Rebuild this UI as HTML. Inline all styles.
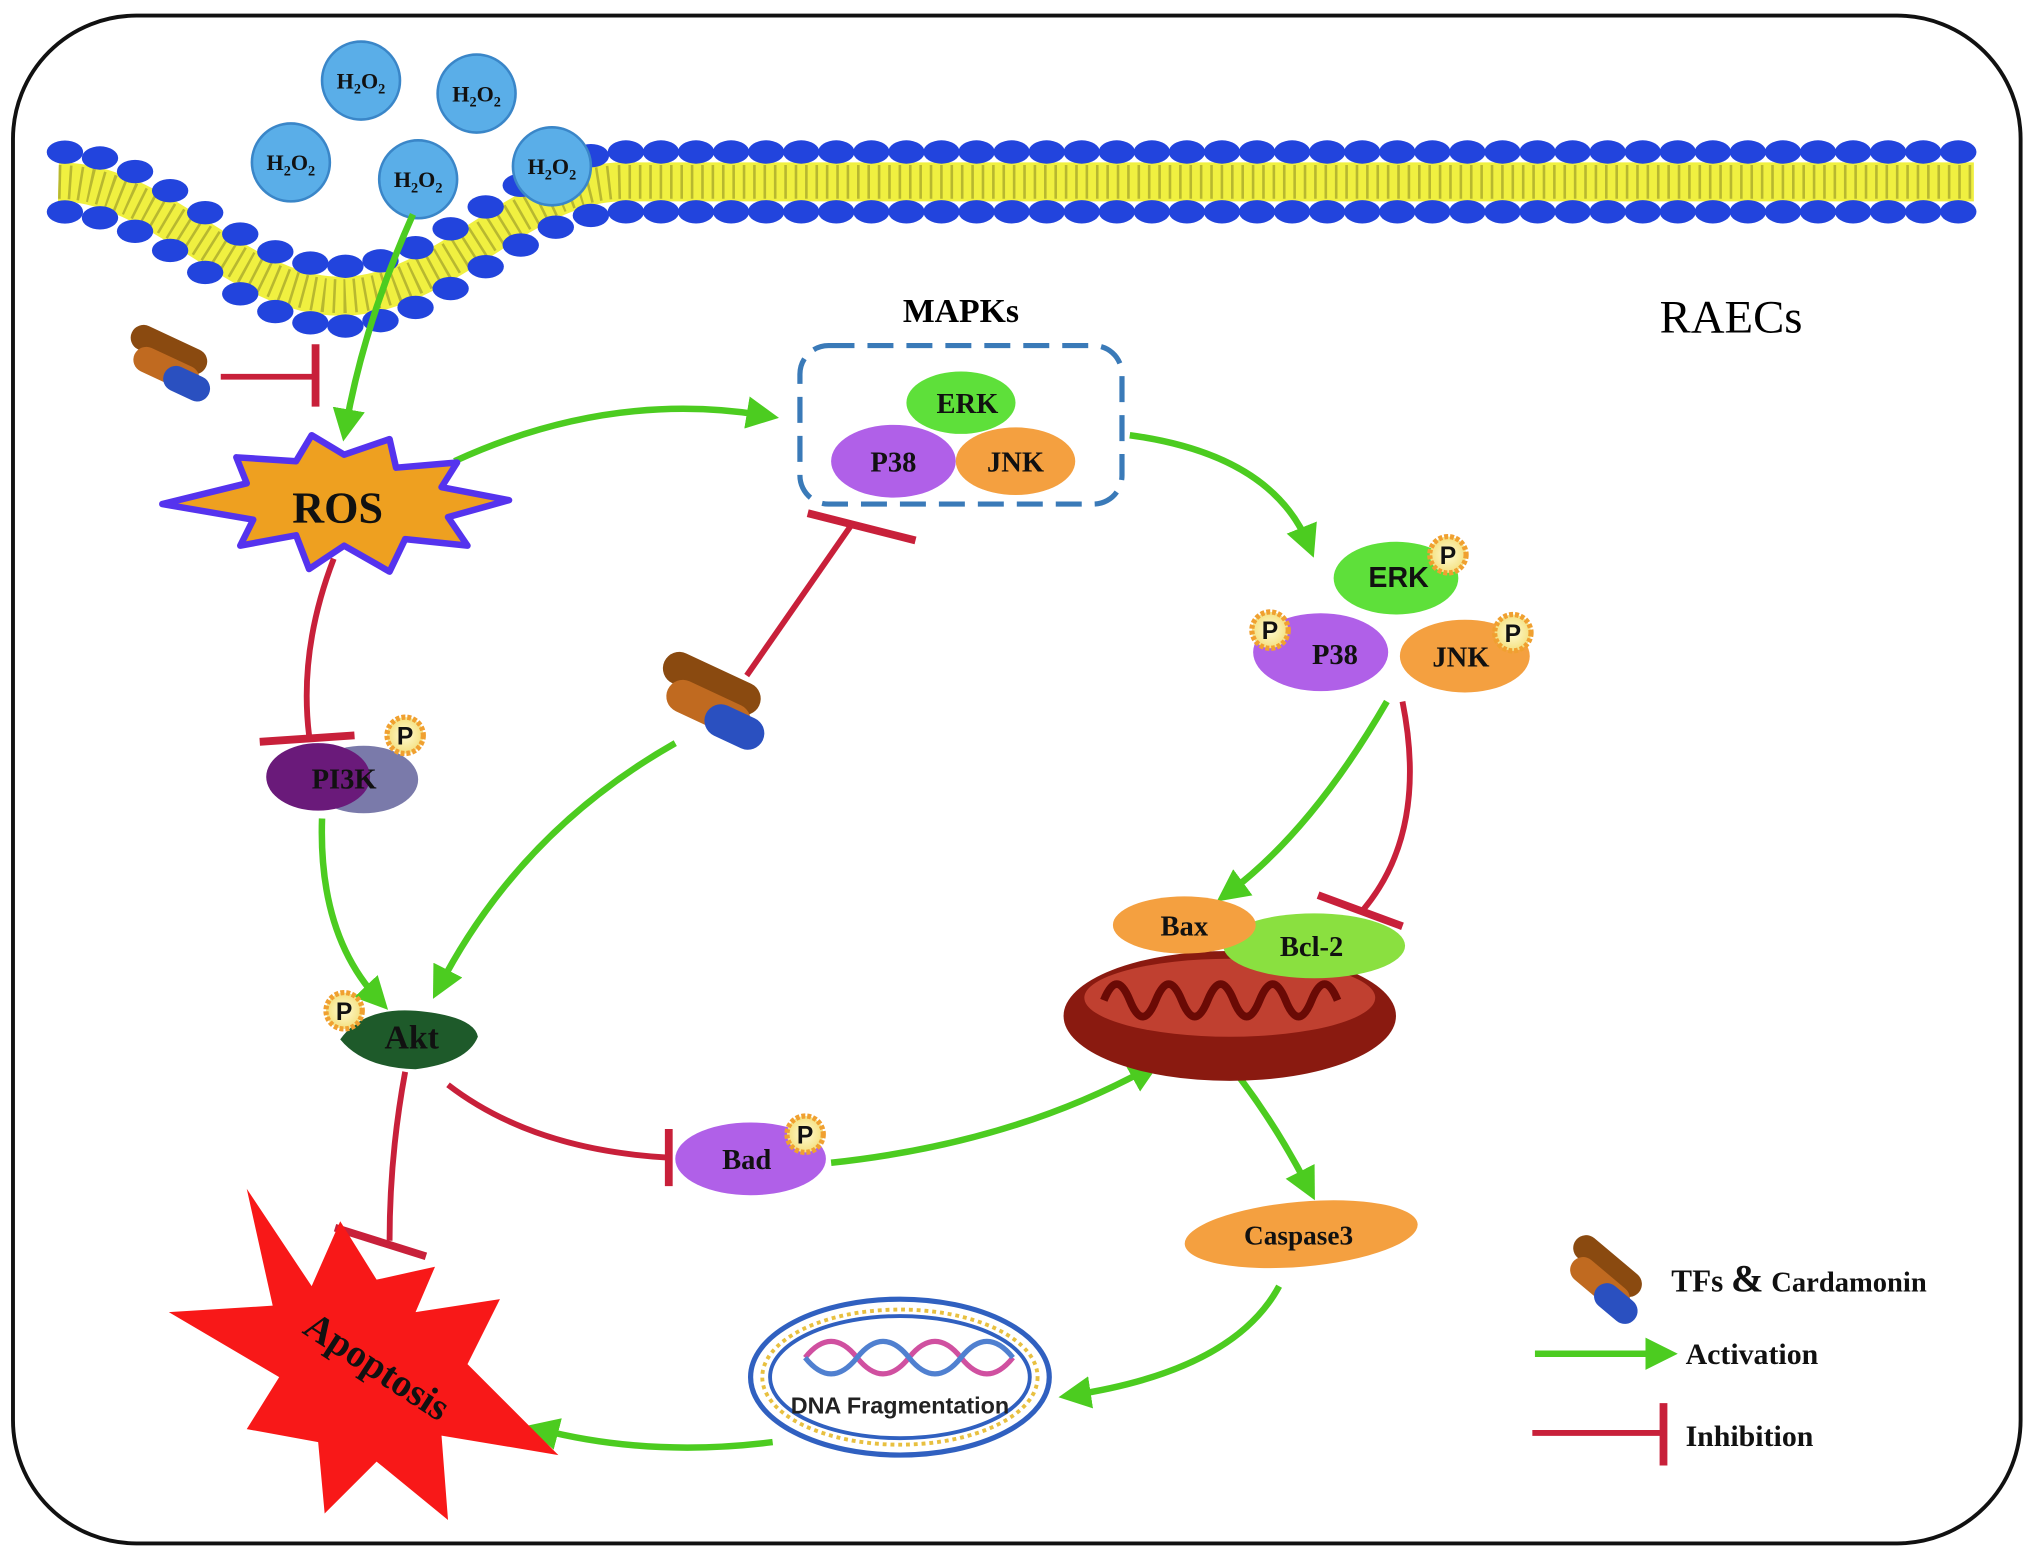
<!DOCTYPE html>
<html><head><meta charset="utf-8"><style>
html,body{margin:0;padding:0;background:#fff}
svg{display:block}
text{font-family:"Liberation Serif",serif;font-weight:bold}
</style></head><body>
<svg id="s" width="2031" height="1559" viewBox="0 0 1564 1200" preserveAspectRatio="none" xmlns="http://www.w3.org/2000/svg">
<defs>
<marker id="ga" viewBox="0 0 10 10" refX="6" refY="5" markerWidth="5" markerHeight="5" orient="auto" markerUnits="strokeWidth"><path d="M0,0L10,5L0,10z" fill="#4ccc20"/></marker>
<radialGradient id="pg"><stop offset="0" stop-color="#fffbd0"/><stop offset="1" stop-color="#f4e080"/></radialGradient>
</defs>
<rect x="10" y="12" width="1546" height="1176" rx="95" fill="#fff" stroke="#111" stroke-width="3"/>
<g id="mem"></g>
<!-- H2O -->
<g fill="#5aaee8" stroke="#3a86c8" stroke-width="2">
<circle cx="278" cy="62" r="30"/><circle cx="367" cy="72" r="30"/><circle cx="224" cy="125" r="30"/><circle cx="322" cy="138" r="30"/><circle cx="425" cy="128" r="30"/>
</g>
<g font-size="17" text-anchor="middle" fill="#111">
<text x="278" y="68">H<tspan font-size="11" dy="4">2</tspan><tspan dy="-4">O</tspan><tspan font-size="11" dy="4">2</tspan></text>
<text x="367" y="78">H<tspan font-size="11" dy="4">2</tspan><tspan dy="-4">O</tspan><tspan font-size="11" dy="4">2</tspan></text>
<text x="224" y="131">H<tspan font-size="11" dy="4">2</tspan><tspan dy="-4">O</tspan><tspan font-size="11" dy="4">2</tspan></text>
<text x="322" y="144">H<tspan font-size="11" dy="4">2</tspan><tspan dy="-4">O</tspan><tspan font-size="11" dy="4">2</tspan></text>
<text x="425" y="134">H<tspan font-size="11" dy="4">2</tspan><tspan dy="-4">O</tspan><tspan font-size="11" dy="4">2</tspan></text>
</g>
<!-- green arrows -->
<g fill="none" stroke="#4ccc20" stroke-width="5" marker-end="url(#ga)">
<path d="M318,165 Q280,250 266,330"/>
<path d="M350,355 Q470,300 590,320"/>
<path d="M870,335 Q980,350 1008,420"/>
<path d="M520,572 Q400,640 338,760"/>
<path d="M248,630 Q245,720 292,770"/>
<path d="M640,895 Q780,880 885,822"/>
<path d="M1068,540 Q1010,640 945,688"/>
<path d="M955,830 Q985,870 1008,915"/>
<path d="M985,990 Q950,1055 825,1074"/>
<path d="M595,1110 Q500,1122 415,1100"/>
<path d="M1182,1042 L1282,1042"/>
</g>
<!-- red inhibitions -->
<g fill="none" stroke="#c8203a" stroke-width="4.5">
<path d="M170,290 L243,290"/><path d="M243,265 L243,313" stroke-width="6"/>
<path d="M575,520 L655,405"/><path d="M622,395 L705,416" stroke-width="6"/>
<path d="M257,430 Q230,500 238,566"/><path d="M200,571 L273,566" stroke-width="6"/>
<path d="M312,825 Q300,890 300,955"/><path d="M258,945 L328,967" stroke-width="6"/>
<path d="M345,835 Q410,885 514,891"/><path d="M515,869 L515,913" stroke-width="6"/>
<path d="M1080,540 Q1100,640 1050,700"/><path d="M1015,689 L1080,713" stroke-width="6"/>
<path d="M1180,1103 L1280,1103"/><path d="M1281,1080 L1281,1128" stroke-width="6"/>
</g>
<!-- MAPKs box -->
<rect x="616" y="266" width="248" height="122" rx="22" fill="none" stroke="#3a7ab8" stroke-width="4" stroke-dasharray="20,10"/>
<text x="740" y="248" font-size="26" text-anchor="middle">MAPKs</text>
<text x="1333" y="256" font-size="36" font-weight="normal" style="font-weight:normal" text-anchor="middle">RAECs</text>
<ellipse cx="740" cy="310" rx="42" ry="24" fill="#5ee03a"/>
<ellipse cx="688" cy="355" rx="48" ry="28" fill="#b060e8"/>
<ellipse cx="782" cy="355" rx="46" ry="26" fill="#f4a040"/>
<g font-size="22" text-anchor="middle" fill="#111"><text x="745" y="318">ERK</text><text x="688" y="363">P38</text><text x="782" y="363">JNK</text></g>
<!-- phosphorylated group -->
<ellipse cx="1075" cy="445" rx="48" ry="28" fill="#5ee03a"/>
<ellipse cx="1017" cy="502" rx="52" ry="30" fill="#b060e8"/>
<ellipse cx="1128" cy="505" rx="50" ry="28" fill="#f4a040"/>
<g font-size="22" text-anchor="middle" fill="#111"><text x="1077" y="452" font-family="Liberation Sans" style="font-family:'Liberation Sans'">ERK</text><text x="1028" y="511">P38</text><text x="1125" y="513">JNK</text></g>
<!-- ROS star -->
<polygon points="125,388 190,372 182,352 228,355 240,335 265,350 300,338 305,360 352,356 340,375 392,385 345,398 360,420 312,415 300,440 265,420 238,438 228,412 185,420 195,400" fill="#eea020" stroke="#5533ee" stroke-width="5" stroke-linejoin="round"/>
<text x="260" y="402" font-size="34" text-anchor="middle" fill="#111">ROS</text>
<!-- PI3K -->
<ellipse cx="280" cy="600" rx="42" ry="26" fill="#7a7aaa"/>
<ellipse cx="245" cy="598" rx="40" ry="26" fill="#6a1a7a"/>
<text x="265" y="607" font-size="22" text-anchor="middle" fill="#111">PI3K</text>
<!-- Akt -->
<path d="M262,800 Q280,775 320,778 Q365,782 368,798 Q360,818 320,823 Q280,822 262,800z" fill="#1e5a2a"/>
<text x="317" y="807" font-size="26" text-anchor="middle" fill="#111">Akt</text>
<!-- Apoptosis -->
<polygon points="190,915 240,990 262,940 290,985 335,975 320,1010 385,1000 360,1050 430,1120 340,1105 345,1170 290,1125 250,1165 245,1110 190,1100 215,1060 130,1010 210,1005" fill="#f81818"/>
<text x="285" y="1060" font-size="30" text-anchor="middle" fill="#111" transform="rotate(33 285 1060)">Apoptosis</text>
<!-- Bad -->
<ellipse cx="578" cy="892" rx="58" ry="28" fill="#b060e8"/>
<text x="575" y="900" font-size="22" text-anchor="middle" fill="#111">Bad</text>
<!-- Mitochondria -->
<ellipse cx="947" cy="782" rx="128" ry="50" fill="#8a1a10"/>
<ellipse cx="947" cy="768" rx="112" ry="30" fill="#c04030"/>
<path d="M850,770 q10,-25 20,0 q10,25 20,0 q10,-25 20,0 q10,25 20,0 q10,-25 20,0 q10,25 20,0 q10,-25 20,0 q10,25 20,0 q10,-25 20,0" fill="none" stroke="#6a0a05" stroke-width="6"/>
<ellipse cx="1012" cy="728" rx="70" ry="25" fill="#8ae040"/>
<ellipse cx="912" cy="712" rx="55" ry="22" fill="#f4a040"/>
<text x="912" y="720" font-size="22" text-anchor="middle" fill="#111">Bax</text>
<text x="1010" y="736" font-size="22" text-anchor="middle" fill="#111">Bcl-2</text>
<!-- Caspase3 -->
<ellipse cx="1002" cy="950" rx="90" ry="25" fill="#f4a040" transform="rotate(-5 1002 950)"/>
<text x="1000" y="958" font-size="21" text-anchor="middle" fill="#111">Caspase3</text>
<!-- DNA -->
<ellipse cx="693" cy="1060" rx="115" ry="60" fill="#fff" stroke="#3060c0" stroke-width="4"/>
<ellipse cx="693" cy="1060" rx="106" ry="52" fill="none" stroke="#e8c040" stroke-width="3" stroke-dasharray="3,3"/>
<ellipse cx="693" cy="1060" rx="100" ry="47" fill="none" stroke="#3060c0" stroke-width="3"/>
<path d="M620,1045 q20,-25 40,0 t40,0 t40,0 t40,0" fill="none" stroke="#d050a0" stroke-width="4"/>
<path d="M620,1045 q20,25 40,0 t40,0 t40,0 t40,0" fill="none" stroke="#5080d0" stroke-width="4"/>
<text x="693" y="1088" font-size="18" text-anchor="middle" fill="#222" style="font-family:'Liberation Sans'">DNA Fragmentation</text>
<!-- P badges -->
<g id="pb"></g>
<!-- drugs -->
<g id="drugs"></g>
<!-- legend -->
<text x="1287" y="994" font-size="24" fill="#111">TFs <tspan font-size="30">&amp;</tspan> <tspan font-size="22">Cardamonin</tspan></text>
<text x="1298" y="1050" font-size="23" fill="#111">Activation</text>
<text x="1298" y="1113" font-size="23" fill="#111">Inhibition</text>
</svg>
<script>
var NS="http://www.w3.org/2000/svg";
function el(p,n,a){var e=document.createElementNS(NS,n);for(var k in a)e.setAttribute(k,a[k]);p.appendChild(e);return e;}
var mem=document.getElementById('mem');
function d(x){if(x<45||x>480)return 0;var t=(x-45)/435;return 88*(0.5-0.5*Math.cos(2*Math.PI*t));}
var pts=[];for(var x=45;x<=1522;x+=5)pts.push(x+","+(140+d(x)));
el(mem,'polyline',{points:pts.join(' '),fill:'none',stroke:'#f0f040','stroke-width':30});
el(mem,'polyline',{points:pts.join(' '),fill:'none',stroke:'#b8b830','stroke-width':26,'stroke-dasharray':'2,6'});
for(var x=50;x<=1515;x+=27){var y=d(x);el(mem,'ellipse',{cx:x,cy:117+y,rx:14,ry:9,fill:'#2244dd'});el(mem,'ellipse',{cx:x,cy:163+y,rx:14,ry:9,fill:'#2244dd'});}
var pb=document.getElementById('pb');
[[312,566],[265,778],[620,873],[1115,427],[978,485],[1165,487]].forEach(function(p){
el(pb,'circle',{cx:p[0],cy:p[1],r:14,fill:'url(#pg)',stroke:'#f0a030','stroke-width':4,'stroke-dasharray':'3,1.5'});
var t=el(pb,'text',{x:p[0],y:p[1]+7,'font-size':19,'text-anchor':'middle',fill:'#111',style:"font-family:'Liberation Sans'"});t.textContent='P';});
var dg=document.getElementById('drugs');
function drug(x,y,s,r){var g=el(dg,'g',{transform:'translate('+x+','+y+') rotate('+r+') scale('+s+')'});
el(g,'rect',{x:-40,y:-22,width:70,height:22,rx:11,fill:'#8a4a10'});
el(g,'rect',{x:-30,y:-6,width:60,height:22,rx:11,fill:'#c06a20'});
el(g,'rect',{x:0,y:-2,width:42,height:22,rx:11,fill:'#2a50c0'});}
drug(130,280,0.9,25);drug(548,540,1.15,25);drug(1235,985,0.9,40);
</script>
</body></html>
